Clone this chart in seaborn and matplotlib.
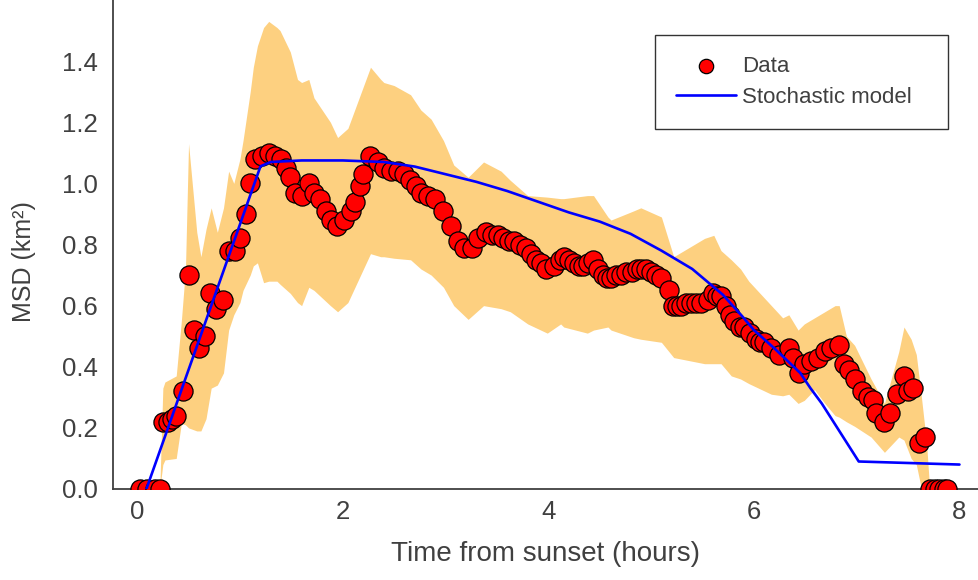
import numpy as np
import pandas as pd
import matplotlib
matplotlib.use("Agg")
import matplotlib.pyplot as plt
import seaborn as sns

# ---------------- data ----------------
time_h = [0.03, 0.10, 0.17, 0.22, 0.25, 0.30, 0.34, 0.38, 0.45, 0.50, 0.55, 0.60, 0.66,
          0.71, 0.77, 0.84, 0.89, 0.95, 1.00, 1.06, 1.10, 1.15, 1.21, 1.28, 1.34, 1.40,
          1.45, 1.49, 1.54, 1.60, 1.67, 1.72, 1.78, 1.84, 1.89, 1.94, 2.01, 2.08, 2.12,
          2.17, 2.20, 2.27, 2.34, 2.40, 2.47, 2.54, 2.60, 2.65, 2.71, 2.76, 2.83, 2.90,
          2.98, 3.05, 3.12, 3.18, 3.26, 3.32, 3.39, 3.45, 3.51, 3.56, 3.62, 3.67, 3.72,
          3.78, 3.83, 3.88, 3.93, 3.98, 4.06, 4.11, 4.15, 4.20, 4.25, 4.30, 4.34, 4.39,
          4.43, 4.48, 4.53, 4.57, 4.61, 4.66, 4.71, 4.76, 4.81, 4.86, 4.90, 4.95, 5.00,
          5.05, 5.10, 5.17, 5.21, 5.25, 5.29, 5.34, 5.39, 5.44, 5.49, 5.55, 5.60, 5.64,
          5.68, 5.73, 5.77, 5.81, 5.86, 5.90, 5.96, 6.02, 6.06, 6.10, 6.17, 6.24, 6.34,
          6.38, 6.44, 6.49, 6.56, 6.62, 6.69, 6.75, 6.83, 6.88, 6.93, 6.98, 7.05, 7.11,
          7.16, 7.19, 7.27, 7.32, 7.39, 7.46, 7.50, 7.55, 7.61, 7.66, 7.71, 7.76, 7.80,
          7.85, 7.88]
msd = [0.00, 0.00, 0.00, 0.00, 0.22, 0.22, 0.23, 0.24, 0.32, 0.70, 0.52, 0.46, 0.50,
       0.64, 0.59, 0.62, 0.78, 0.78, 0.82, 0.90, 1.00, 1.08, 1.09, 1.10, 1.09, 1.08,
       1.05, 1.02, 0.97, 0.96, 1.00, 0.97, 0.95, 0.91, 0.88, 0.86, 0.88, 0.91, 0.94,
       0.99, 1.03, 1.09, 1.07, 1.05, 1.04, 1.04, 1.03, 1.01, 0.99, 0.97, 0.96, 0.95,
       0.91, 0.86, 0.81, 0.79, 0.79, 0.82, 0.84, 0.83, 0.83, 0.82, 0.81, 0.81, 0.80,
       0.79, 0.77, 0.75, 0.74, 0.72, 0.73, 0.75, 0.76, 0.75, 0.74, 0.73, 0.73, 0.74,
       0.75, 0.72, 0.70, 0.69, 0.69, 0.70, 0.70, 0.71, 0.71, 0.72, 0.72, 0.72, 0.71,
       0.70, 0.69, 0.65, 0.60, 0.60, 0.60, 0.61, 0.61, 0.61, 0.61, 0.62, 0.64, 0.63,
       0.63, 0.60, 0.57, 0.55, 0.53, 0.53, 0.51, 0.49, 0.48, 0.48, 0.46, 0.44, 0.46,
       0.43, 0.38, 0.41, 0.42, 0.43, 0.45, 0.46, 0.47, 0.41, 0.39, 0.36, 0.32, 0.30,
       0.29, 0.25, 0.22, 0.25, 0.31, 0.37, 0.32, 0.33, 0.15, 0.17, 0.00, 0.00, 0.00,
       0.00, 0.00]

model_t = [0.09, 1.20, 1.30, 1.60, 2.00, 2.40, 2.70, 3.00, 3.30, 3.60, 3.90, 4.20,
           4.50, 4.80, 5.10, 5.40, 5.70, 5.90, 6.00, 6.20, 6.45, 6.55, 6.66, 7.02, 8.00]
model_msd = [0.00, 1.056, 1.07, 1.075, 1.075, 1.07, 1.055, 1.03, 1.005, 0.975, 0.94, 0.905,
             0.875, 0.835, 0.78, 0.72, 0.635, 0.56, 0.52, 0.46, 0.38, 0.33, 0.28, 0.09, 0.08]

band_t = [0.22, 0.25, 0.27, 0.38, 0.43, 0.47, 0.50, 0.58, 0.62, 0.67, 0.72, 0.78, 0.84,
          0.89, 0.94, 1.00, 1.03, 1.10, 1.13, 1.17, 1.23, 1.28, 1.36, 1.39, 1.49, 1.56,
          1.60, 1.67, 1.72, 1.88, 1.95, 2.05, 2.27, 2.37, 2.40, 2.50, 2.66, 2.76, 2.86,
          2.98, 3.08, 3.22, 3.37, 3.54, 3.63, 3.80, 3.99, 4.12, 4.15, 4.38, 4.44, 4.58,
          4.61, 4.83, 4.90, 5.10, 5.22, 5.52, 5.61, 5.68, 5.78, 5.87, 5.95, 6.17, 6.28,
          6.34, 6.43, 6.49, 6.59, 6.69, 6.79, 6.83, 6.90, 6.98, 7.14, 7.27, 7.41, 7.46,
          7.53, 7.58, 7.63, 7.68, 7.71]
band_upper = [0.00, 0.33, 0.35, 0.37, 0.55, 0.72, 1.13, 0.84, 0.76, 0.85, 0.92, 0.84, 0.92,
              1.04, 1.00, 1.08, 1.14, 1.30, 1.38, 1.45, 1.51, 1.53, 1.51, 1.50, 1.43, 1.34,
              1.33, 1.34, 1.28, 1.20, 1.15, 1.18, 1.38, 1.34, 1.33, 1.32, 1.29, 1.24, 1.21,
              1.14, 1.06, 1.02, 1.07, 1.04, 1.01, 0.96, 0.955, 0.95, 0.95, 0.96, 0.96, 0.89,
              0.88, 0.91, 0.92, 0.89, 0.76, 0.82, 0.83, 0.78, 0.75, 0.72, 0.68, 0.60, 0.56,
              0.57, 0.52, 0.54, 0.56, 0.58, 0.60, 0.60, 0.50, 0.47, 0.36, 0.28, 0.45, 0.53,
              0.49, 0.44, 0.30, 0.15, 0.00]
band_lower = [0.00, 0.08, 0.095, 0.10, 0.215, 0.21, 0.20, 0.19, 0.19, 0.23, 0.33, 0.34, 0.38,
              0.52, 0.57, 0.61, 0.65, 0.70, 0.73, 0.74, 0.675, 0.68, 0.68, 0.67, 0.64, 0.61,
              0.60, 0.66, 0.65, 0.60, 0.58, 0.61, 0.77, 0.76, 0.76, 0.755, 0.75, 0.72, 0.70,
              0.66, 0.60, 0.555, 0.60, 0.59, 0.58, 0.54, 0.51, 0.54, 0.53, 0.51, 0.52, 0.53,
              0.52, 0.495, 0.49, 0.48, 0.43, 0.41, 0.41, 0.41, 0.37, 0.36, 0.345, 0.31, 0.305,
              0.31, 0.28, 0.29, 0.325, 0.28, 0.24, 0.235, 0.22, 0.205, 0.17, 0.12, 0.17, 0.16,
              0.10, 0.08, 0.00, 0.00, 0.00]

x_ticks = [0, 2, 4, 6, 8]
y_ticks = [0.0, 0.2, 0.4, 0.6, 0.8, 1.0, 1.2, 1.4]
y_tick_labels = ["0.0", "0.2", "0.4", "0.6", "0.8", "1.0", "1.2", "1.4"]
x_label = "Time from sunset (hours)"
y_label = "MSD (km²)"
series_names = ["Data", "Stochastic model"]

# ---------------- style ----------------
sns.set_theme(style="white")
plt.rcParams['font.family'] = ['Liberation Sans', 'DejaVu Sans']
text_col = "#404040"

fig = plt.figure(figsize=(9.79, 5.80), dpi=100)
ax = fig.add_axes([113 / 979, 91 / 580, (979 - 113) / 979, 489 / 580])

ax.fill_between(band_t, band_lower, band_upper, color="#FDD080", linewidth=0, zorder=1)

data_df = pd.DataFrame({"t": time_h, "msd": msd})
model_df = pd.DataFrame({"t": model_t, "msd": model_msd})

sns.scatterplot(data=data_df, x="t", y="msd", ax=ax, s=190, color="#FF0000",
                edgecolor="black", linewidth=0.9, label=series_names[0], zorder=3)
sns.lineplot(data=model_df, x="t", y="msd", ax=ax, color="#0000FF", linewidth=1.9,
             label=series_names[1], zorder=4)

ax.set_xlim(-0.235, 8.19)
ax.set_ylim(0, 1.6)
ax.set_xticks(x_ticks)
ax.set_yticks(y_ticks)
ax.set_yticklabels(y_tick_labels)
ax.set_xlabel(x_label, fontsize=20, color=text_col, labelpad=12)
ax.set_ylabel(y_label, fontsize=18, color=text_col)
ax.yaxis.set_label_coords(-0.089, 0.466)
ax.tick_params(axis="both", direction="in", length=7, width=1.0, color=text_col,
               labelsize=18.5, labelcolor=text_col)
ax.tick_params(axis="y", pad=11)
ax.tick_params(axis="x", pad=8)
for side in ["top", "right"]:
    ax.spines[side].set_visible(False)
for side in ["left", "bottom"]:
    ax.spines[side].set_color(text_col)
    ax.spines[side].set_linewidth(1.3)

lx0 = (655 - 113) / 866
lw = (948 - 655) / 866
ly1 = 1 - 35 / 489
lh = (126 - 35) / 489
leg = ax.legend(loc="upper left", bbox_to_anchor=(lx0, ly1 - lh, lw, lh), mode="expand",
                fontsize=16, frameon=True, fancybox=False, shadow=False,
                borderpad=0.95, labelspacing=0.45, handlelength=2.7, handletextpad=0.27,
                markerscale=0.75, borderaxespad=0)
leg.get_frame().set_edgecolor("black")
leg.get_frame().set_linewidth(1.0)
for t in leg.get_texts():
    t.set_color(text_col)

fig.savefig("out.png", dpi=100)
